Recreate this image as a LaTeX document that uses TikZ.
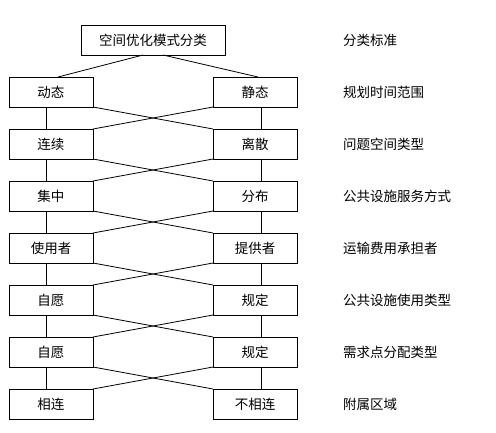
\documentclass[tikz,border=0pt]{standalone}
\usepackage{fontspec}
\newfontfamily\cjk{Noto Sans CJK SC}
\begin{document}
\begin{tikzpicture}[x=1pt,y=-1pt,
  every node/.style={font=\cjk\fontsize{13.5}{16}\selectfont},
  box/.style={draw,line width=0.8pt,minimum width=84pt,minimum height=30pt,inner sep=0pt,outer sep=0pt},
  topbox/.style={box,minimum width=144pt},
  lbl/.style={anchor=west,inner sep=0pt},
  ln/.style={line width=0.8pt}]
\useasboundingbox (0,0) rectangle (496,432);
\node[topbox] (T) at (153,40) {空间优化模式分类};
\foreach \i/\lt/\rt in {1/动态/静态,2/连续/离散,3/集中/分布,4/使用者/提供者,5/自愿/规定,6/自愿/规定,7/相连/不相连}{
  \node[box] (L\i) at (51,{40+52*\i}) {\lt};
  \node[box] (R\i) at (255,{40+52*\i}) {\rt};
}
\node[lbl] (S0) at (343,40) {分类标准};
\node[lbl] (S1) at (343,92) {规划时间范围};
\node[lbl] (S2) at (343,144) {问题空间类型};
\node[lbl] (S3) at (343,196) {公共设施服务方式};
\node[lbl] (S4) at (343,248) {运输费用承担者};
\node[lbl] (S5) at (343,300) {公共设施使用类型};
\node[lbl] (S6) at (343,352) {需求点分配类型};
\node[lbl] (S7) at (343,404) {附属区域};
\draw[ln] ([xshift=-10pt]T.south) -- ([xshift=7pt]L1.north);
\draw[ln] ([xshift=10pt]T.south) -- ([xshift=3pt]R1.north);
\foreach \i [evaluate=\i as \j using int(\i+1)] in {1,...,6}{
  \draw[ln] ([xshift=-5pt]L\i.south) -- ([xshift=-5pt]L\j.north);
  \draw[ln] ([xshift=6pt]R\i.south) -- ([xshift=6pt]R\j.north);
  \draw[ln] (L\i.south east) -- (R\j.north west);
  \draw[ln] (R\i.south west) -- (L\j.north east);
}
\end{tikzpicture}
\end{document}
